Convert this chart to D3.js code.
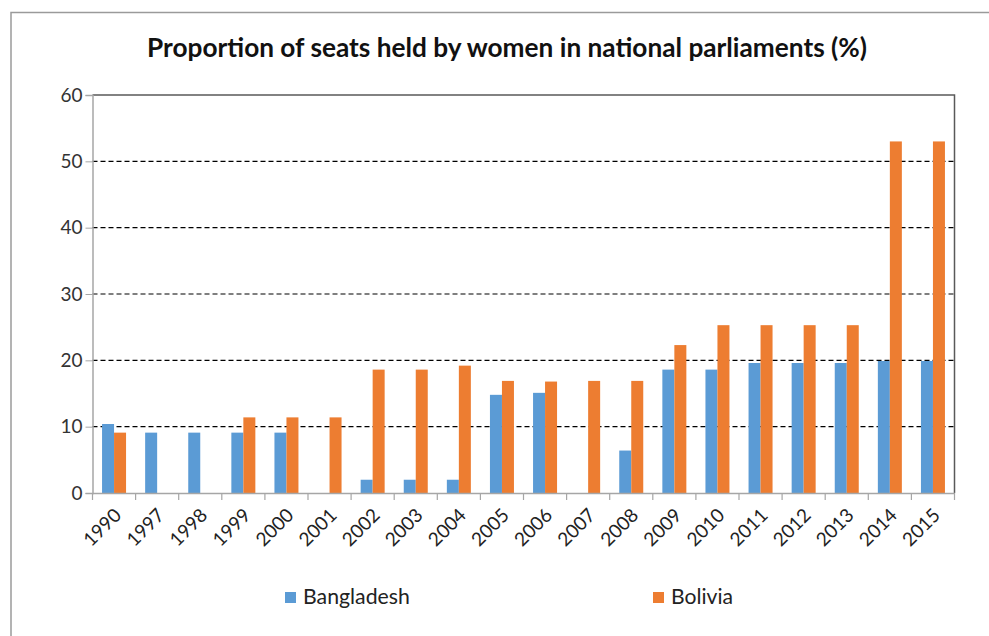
<!DOCTYPE html>
<html><head><meta charset="utf-8">
<script src="https://cdn.jsdelivr.net/npm/d3@7"></script>
<style>
html,body{margin:0;padding:0;background:#fff;}
svg{display:block;font-family:Lato,"Open Sans",sans-serif;}
</style></head>
<body>
<svg id="chart" width="989" height="636"></svg>
<script>
const years = ["1990","1997","1998","1999","2000","2001","2002","2003","2004","2005","2006","2007","2008","2009","2010","2011","2012","2013","2014","2015"];
const bangladesh = [10.4,9.1,9.1,9.1,9.1,null,2.0,2.0,2.0,14.8,15.1,null,6.4,18.6,18.6,19.6,19.6,19.6,19.9,19.9];
const bolivia = [9.1,null,null,11.4,11.4,11.4,18.6,18.6,19.2,16.9,16.8,16.9,16.9,22.3,25.3,25.3,25.3,25.3,53.0,53.0];
const seriesNames = ["Bangladesh","Bolivia"];
const colors = ["#5B9BD5","#ED7D31"];
const yTicks = [0,10,20,30,40,50,60];
const title = "Proportion of seats held by women in national parliaments (%)";

const svg = d3.select("#chart");
function fitWidth(sel, base, target){
  const w = sel.node().getComputedTextLength();
  if (w>0) sel.attr("font-size", base*target/w);
}
// outer frame
svg.append("path").attr("d","M11,640 L11,12.5 L995,12.5").attr("fill","none").attr("stroke","#9a9a9a").attr("stroke-width",1.5);

const L=92.5, R=954.5, T=95, B=493;
const x = d3.scaleBand().domain(years).range([L,R]).paddingInner(0).paddingOuter(0);
const y = d3.scaleLinear().domain([0,60]).range([B,T]);

// gridlines
svg.append("g").selectAll("line").data(yTicks.filter(d=>d>0&&d<60)).join("line")
  .attr("x1",L).attr("x2",R).attr("y1",d=>y(d)).attr("y2",d=>y(d))
  .attr("stroke","#000").attr("stroke-width",1.1).attr("stroke-dasharray","5,3");

// bars
const bw = 12;
const data = [];
years.forEach((yr,i)=>{
  [bangladesh[i],bolivia[i]].forEach((v,s)=>{ if(v!=null) data.push({yr,s,v}); });
});
svg.append("g").selectAll("rect").data(data).join("rect")
  .attr("x",d=>x(d.yr)+x.bandwidth()/2 - bw + d.s*bw)
  .attr("width",bw)
  .attr("y",d=>y(d.v)).attr("height",d=>B-y(d.v))
  .attr("fill",d=>colors[d.s]);

// top & right border
svg.append("path").attr("d",`M${L},${T} L${R},${T} L${R},${B}`).attr("fill","none").attr("stroke","#595959").attr("stroke-width",1.5);

// y axis
const yAxis = svg.append("g").attr("transform",`translate(${L},0)`)
  .call(d3.axisLeft(y).tickValues(yTicks).tickSize(7).tickPadding(3));
yAxis.select(".domain").attr("stroke","#a6a6a6").attr("stroke-width",1.5);
yAxis.selectAll(".tick line").attr("stroke","#a6a6a6");
yAxis.selectAll("text").attr("font-size",19).attr("fill","#333").attr("font-family","Lato,sans-serif");

// x axis
const xAxis = svg.append("g").attr("transform",`translate(0,${B})`)
  .call(d3.axisBottom(x).tickSize(0).tickFormat(""));
xAxis.select(".domain").attr("stroke","#a6a6a6").attr("stroke-width",1.5);
// boundary ticks
svg.append("g").selectAll("line").data(years.concat(["__end"])).join("line")
  .attr("x1",(d,i)=>L+i*x.bandwidth()).attr("x2",(d,i)=>L+i*x.bandwidth())
  .attr("y1",B).attr("y2",B+7).attr("stroke","#a6a6a6").attr("stroke-width",1.2);
// rotated labels
svg.append("g").selectAll("text").data(years).join("text")
  .attr("transform",d=>`translate(${x(d)+x.bandwidth()/2-1},${B+14}) rotate(-45)`)
  .attr("text-anchor","end").attr("dy","0.7em")
  .attr("font-size",19).attr("fill","#222")
  .text(d=>d);

// title
const t = svg.append("text").attr("x",507).attr("y",57).attr("text-anchor","middle")
  .attr("font-size",21).attr("font-weight","bold").attr("fill","#111").text(title);
fitWidth(t,21,720);

// legend
const leg = [{x:285,name:seriesNames[0],c:colors[0],w:107},{x:653,name:seriesNames[1],c:colors[1],w:62}];
const lg = svg.append("g").selectAll("g").data(leg).join("g").attr("transform",d=>`translate(${d.x},592)`);
lg.append("rect").attr("width",11).attr("height",11).attr("fill",d=>d.c);
lg.append("text").attr("x",18).attr("y",12).attr("font-size",18).attr("fill","#222").text(d=>d.name)
  .each(function(d){ fitWidth(d3.select(this),18,d.w); });
</script>
</body></html>
